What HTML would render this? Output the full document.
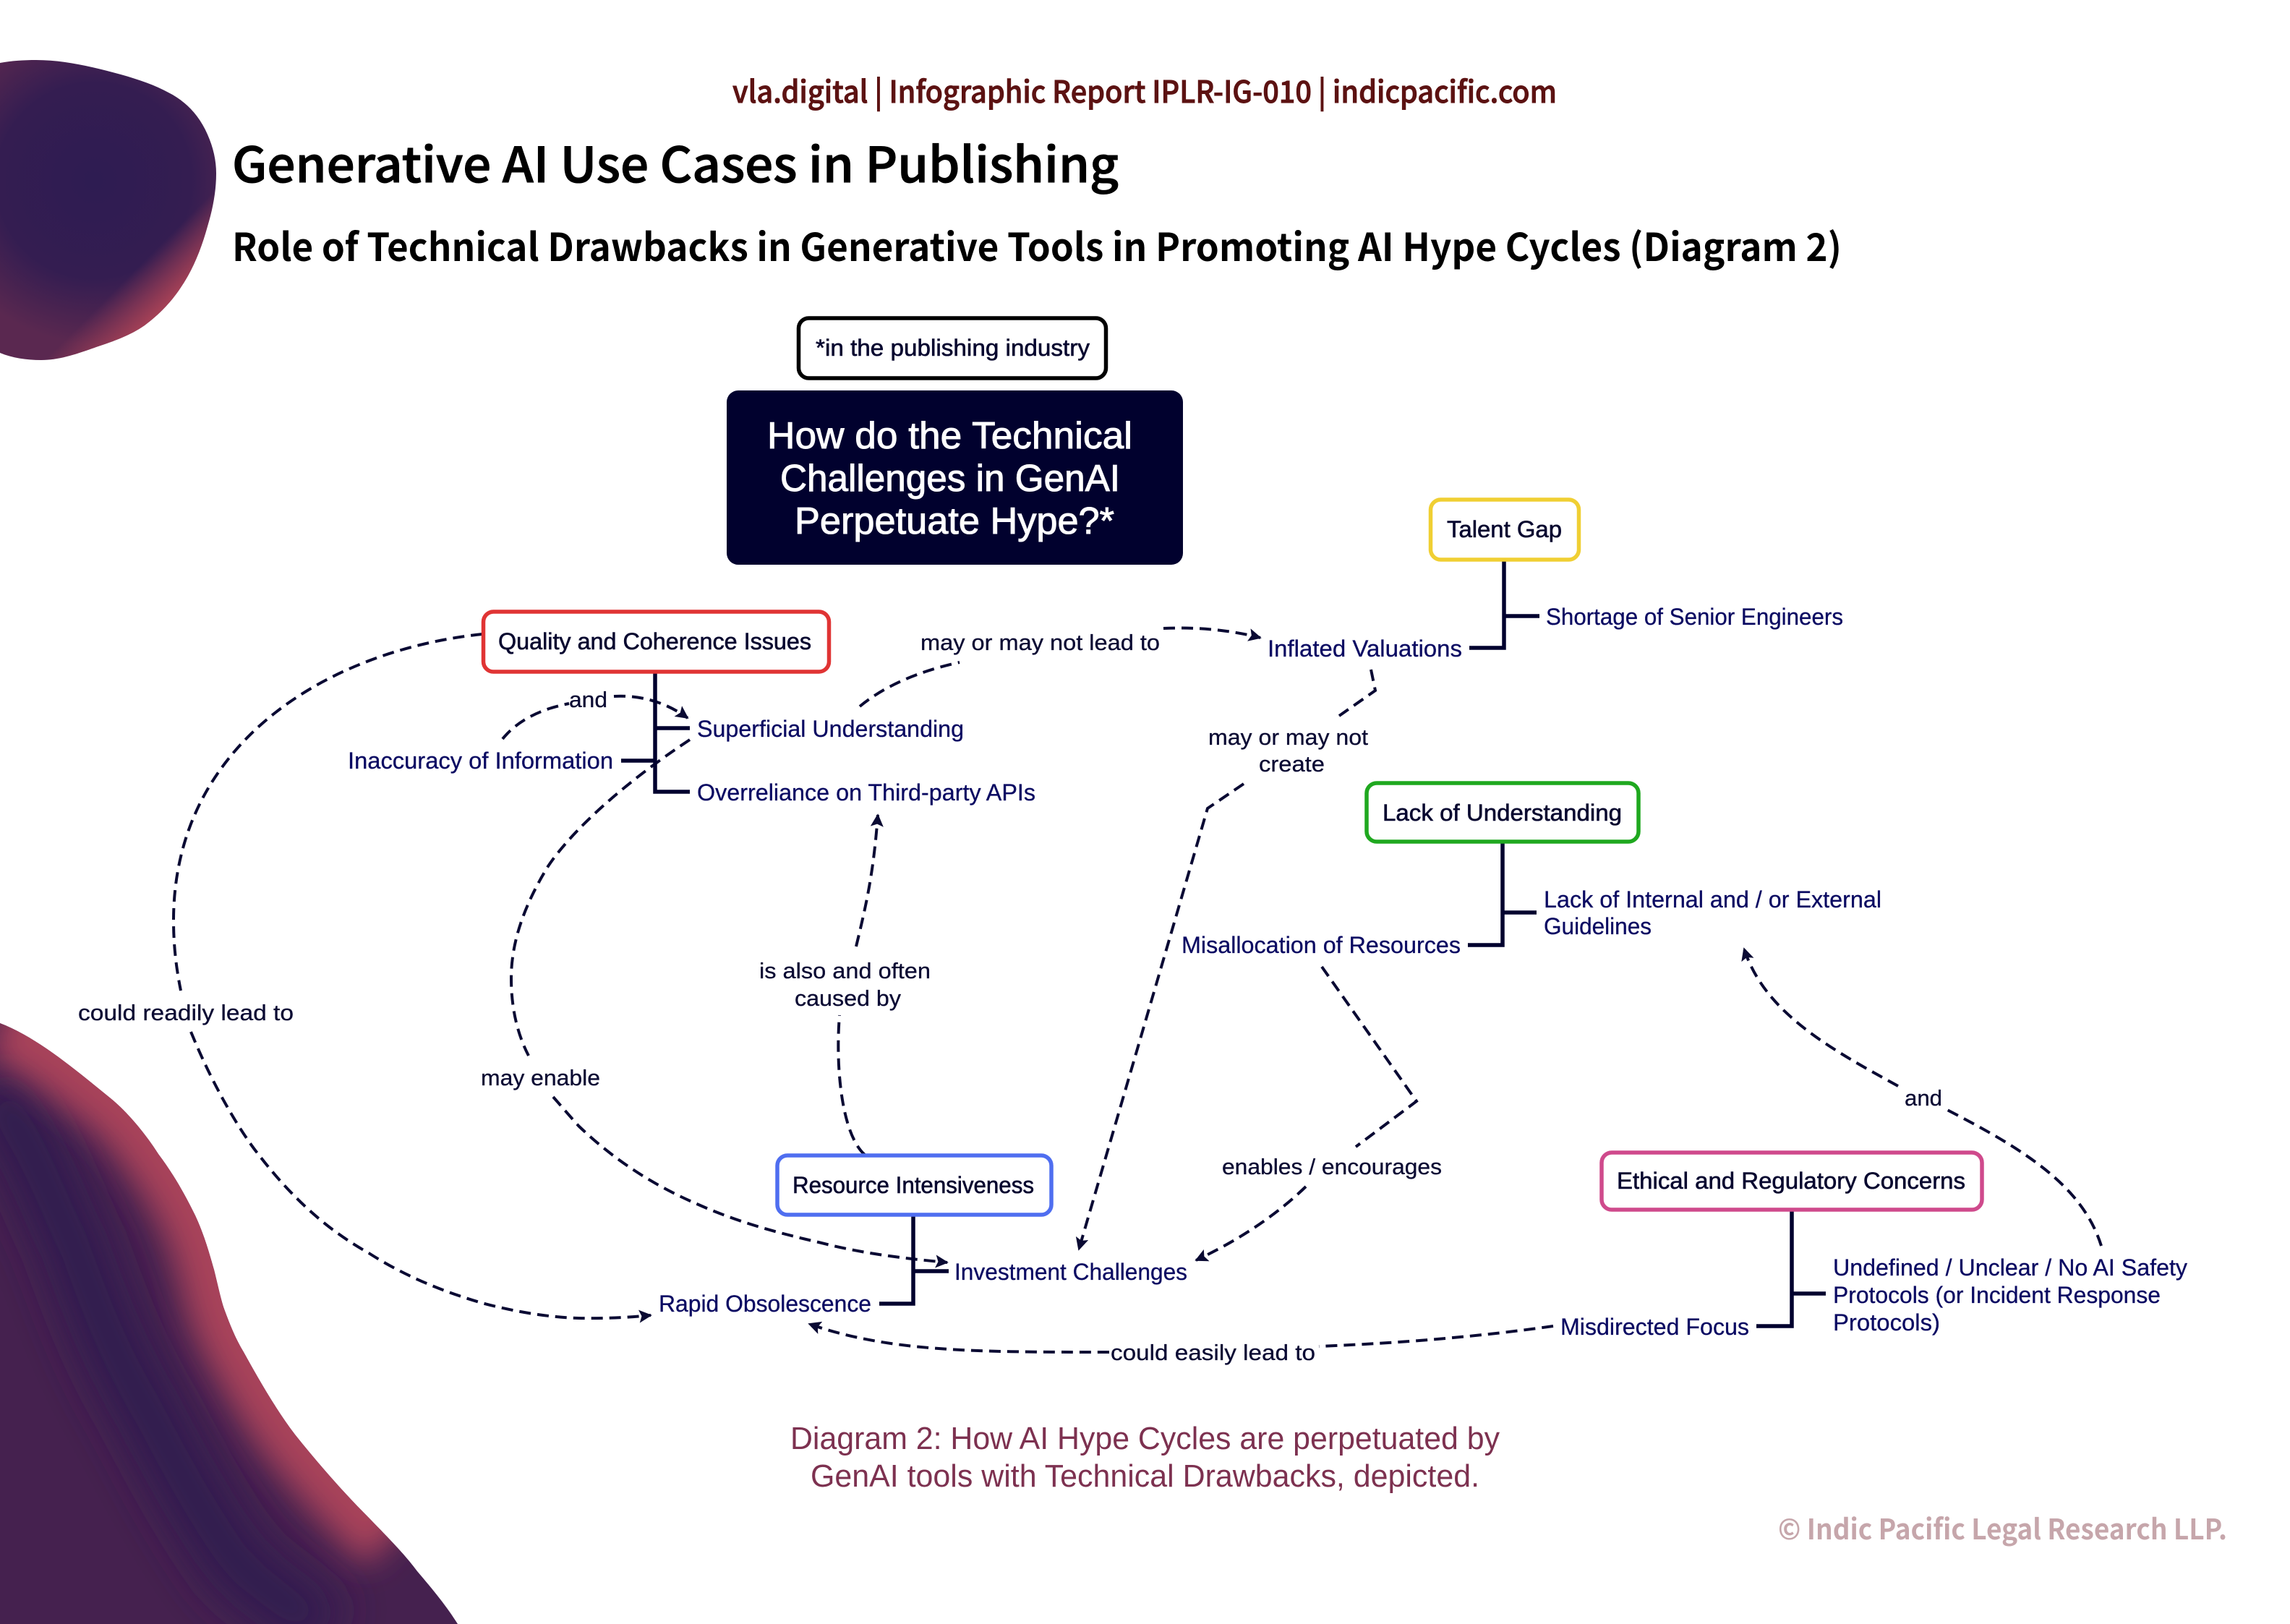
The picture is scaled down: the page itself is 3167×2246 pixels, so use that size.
<!DOCTYPE html>
<html><head><meta charset="utf-8"><title>Generative AI Use Cases in Publishing</title>
<style>
html,body{margin:0;padding:0;background:#fff}
svg{display:block}
text{font-family:"Liberation Sans",sans-serif;white-space:pre}
.h{font-family:"Noto Sans CJK JP","Noto Sans CJK SC","Liberation Sans",sans-serif}
.n{font-size:32px;fill:#07072f;stroke:#07072f;stroke-width:.6}
.b{font-size:32px;fill:#0a0a62;stroke:#0a0a62;stroke-width:.3}
.l{font-size:31px;fill:#0a0a33;stroke:#0a0a33;stroke-width:.3}
.m{font-size:52px;fill:#fff;stroke:#fff;stroke-width:1}
.c{font-size:44px;fill:#7d3150}
.d{fill:none;stroke:#0a0a33;stroke-width:4;stroke-dasharray:16 9}
.s{fill:none;stroke:#01012e;stroke-width:5.5}
.box{fill:#fff;stroke-width:5.5}
</style></head><body>
<svg xmlns="http://www.w3.org/2000/svg" width="3167" height="2246" viewBox="0 0 3167 2246">
<defs>
<marker id="a" viewBox="0 0 10 10" refX="9" refY="5" markerWidth="18" markerHeight="18" markerUnits="userSpaceOnUse" orient="auto"><path d="M0 0L10 5L0 10L2 5z" fill="#0a0a33"/></marker>
<radialGradient id="t1" gradientUnits="userSpaceOnUse" cx="130" cy="250" r="225"><stop offset="0" stop-color="#2e1c52"/><stop offset=".6" stop-color="#341d51"/><stop offset="1" stop-color="#5a2850"/></radialGradient>
<linearGradient id="t2" gradientUnits="userSpaceOnUse" x1="280" y1="280" x2="325" y2="325"><stop offset="0" stop-color="#a34056" stop-opacity="0"/><stop offset="1" stop-color="#a34056"/></linearGradient>
<path id="bp" d="M0 1415C52 1435 105 1480 153 1519C175 1537 200 1566 219 1596C243 1628 257 1655 270 1681C283 1709 290 1735 296 1756C302 1780 306 1800 311 1813C318 1832 326 1852 337 1870C358 1908 382 1950 408 1984C440 2024 475 2064 510 2099C540 2130 560 2150 577 2173C600 2200 618 2222 633 2246L0 2246Z"/>
<clipPath id="bc"><use href="#bp"/></clipPath>
<filter id="b1" x="-30%" y="-30%" width="160%" height="160%"><feGaussianBlur stdDeviation="22"/></filter>
<filter id="b2" x="-30%" y="-30%" width="160%" height="160%"><feGaussianBlur stdDeviation="30"/></filter>
</defs>
<rect width="3167" height="2246" fill="#fff"/>

<!-- blobs -->
<path d="M0 87C16 84 33 83 50 83C90 83 130 93 167 103C192 110 215 118 233 128C255 139 275 158 287 186C295 204 299 222 299 240C299 265 294 290 287 313C279 342 268 370 253 393C238 417 220 435 200 450C180 464 157 472 133 480C105 490 82 498 57 498C36 498 17 495 0 488Z" fill="url(#t1)"/>
<path d="M0 87C16 84 33 83 50 83C90 83 130 93 167 103C192 110 215 118 233 128C255 139 275 158 287 186C295 204 299 222 299 240C299 265 294 290 287 313C279 342 268 370 253 393C238 417 220 435 200 450C180 464 157 472 133 480C105 490 82 498 57 498C36 498 17 495 0 488Z" fill="url(#t2)"/>
<g clip-path="url(#bc)">
<rect x="0" y="1400" width="660" height="846" fill="#45214f"/>
<path d="M-20 1500C40 1560 70 1660 102 1721C130 1800 160 1880 204 1950C250 2040 290 2110 332 2167C370 2200 410 2225 450 2260" fill="none" stroke="#331c50" stroke-width="95" filter="url(#b2)"/>
<path d="M0 1415C52 1435 105 1480 153 1519C175 1537 200 1566 219 1596C243 1628 257 1655 270 1681C283 1709 290 1735 296 1756C302 1780 306 1800 311 1813C318 1832 326 1852 337 1870C358 1908 382 1950 408 1984C440 2024 475 2064 510 2099C522 2112 532 2122 540 2130" fill="none" stroke="#a8425a" stroke-width="100" filter="url(#b1)"/>
</g>

<!-- header -->
<text class="h" x="1013" y="142" font-size="42" font-weight="500" fill="#5c1212" stroke="#5c1212" stroke-width=".9" textLength="1140" lengthAdjust="spacingAndGlyphs">vla.digital | Infographic Report IPLR-IG-010 | indicpacific.com</text>
<text class="h" x="321" y="252" font-size="67" font-weight="500" fill="#000" stroke="#000" stroke-width="1" textLength="1226" lengthAdjust="spacingAndGlyphs">Generative AI Use Cases in Publishing</text>
<text class="h" x="321" y="361" font-size="53" font-weight="700" fill="#000" textLength="2226" lengthAdjust="spacingAndGlyphs">Role of Technical Drawbacks in Generative Tools in Promoting AI Hype Cycles (Diagram 2)</text>

<!-- dashed connectors -->
<path class="d" d="M667 877C450 900 240 1030 240 1273C240 1310 244 1340 250 1370"/>
<path class="d" marker-end="url(#a)" d="M264 1427C300 1515 340 1575 357 1596C410 1665 460 1705 510 1733C560 1765 610 1785 663 1801C710 1814 760 1822 800 1823Q850 1824 900 1819"/>
<path class="d" d="M954 1023C860 1085 790 1150 758 1198C720 1260 707 1310 707 1353C707 1400 718 1435 731 1460"/>
<path class="d" marker-end="url(#a)" d="M765 1517Q785 1540 800 1557C850 1605 905 1640 966 1666C1020 1690 1075 1705 1132 1718C1190 1733 1245 1740 1310 1746"/>
<path class="d" d="M1196 1597C1165 1570 1155 1480 1161 1404"/>
<path class="d" marker-end="url(#a)" d="M1184 1309C1197 1255 1208 1210 1214 1127"/>
<path class="d" d="M695 1022Q725 985 787 973"/>
<path class="d" marker-end="url(#a)" d="M849 963Q905 960 951 993"/>
<path class="d" d="M1189 977Q1240 935 1327 916"/>
<path class="d" marker-end="url(#a)" d="M1609 869Q1680 866 1743 882"/>
<path class="d" d="M1896 926L1902 955L1852 990"/>
<path class="d" marker-end="url(#a)" d="M1720 1084L1670 1118L1492 1728"/>
<path class="d" d="M1828 1337L1959 1523L1875 1586"/>
<path class="d" marker-end="url(#a)" d="M1806 1641Q1745 1700 1654 1743"/>
<path class="d" d="M2148 1834Q2000 1855 1824 1862"/>
<path class="d" marker-end="url(#a)" d="M1534 1870C1350 1870 1230 1870 1119 1831"/>
<path class="d" d="M2906 1723C2880 1640 2800 1590 2691 1534"/>
<path class="d" marker-end="url(#a)" d="M2625 1502C2530 1450 2440 1400 2412 1312"/>

<!-- stems -->
<path class="s" d="M906 931V1095H954M906 1007H954M859 1052H906"/>
<path class="s" d="M2080 776V896H2032M2080 852H2129"/>
<path class="s" d="M2078 1166V1307H2030M2078 1262H2125"/>
<path class="s" d="M1263 1682V1803H1216M1263 1758H1312"/>
<path class="s" d="M2478 1675V1834H2429M2478 1789H2525"/>

<!-- boxes -->
<rect class="box" x="1104.500" y="440" width="425" height="83" rx="14" stroke="#000"/>
<rect x="1005" y="540" width="631" height="241" rx="16" fill="#01012e"/>
<rect class="box" x="668.500" y="846" width="478" height="83" rx="14" stroke="#e03434"/>
<rect class="box" x="1978.500" y="691" width="205" height="83" rx="14" stroke="#f0cf33"/>
<rect class="box" x="1890" y="1083" width="376" height="81" rx="14" stroke="#1fa81f"/>
<rect class="box" x="1075" y="1598" width="379" height="82" rx="14" stroke="#4f6ef0"/>
<rect class="box" x="2215" y="1594" width="526" height="79" rx="14" stroke="#cf4a8c"/>

<!-- box labels -->
<text class="n" x="1128" y="492" textLength="379" lengthAdjust="spacingAndGlyphs">*in the publishing industry</text>
<text class="m" x="1061" y="620" textLength="505" lengthAdjust="spacingAndGlyphs">How do the Technical</text>
<text class="m" x="1079" y="679" textLength="470" lengthAdjust="spacingAndGlyphs">Challenges in GenAI</text>
<text class="m" x="1099" y="738" textLength="442" lengthAdjust="spacingAndGlyphs">Perpetuate Hype?*</text>
<text class="n" x="689" y="898" textLength="433" lengthAdjust="spacingAndGlyphs">Quality and Coherence Issues</text>
<text class="n" x="2001" y="743" textLength="159" lengthAdjust="spacingAndGlyphs">Talent Gap</text>
<text class="n" x="1912" y="1135" textLength="331" lengthAdjust="spacingAndGlyphs">Lack of Understanding</text>
<text class="n" x="1096" y="1650" textLength="334" lengthAdjust="spacingAndGlyphs">Resource Intensiveness</text>
<text class="n" x="2236" y="1644" textLength="482" lengthAdjust="spacingAndGlyphs">Ethical and Regulatory Concerns</text>

<!-- blue labels -->
<text class="b" x="964" y="1019" textLength="369" lengthAdjust="spacingAndGlyphs">Superficial Understanding</text>
<text class="b" x="481" y="1063" textLength="367" lengthAdjust="spacingAndGlyphs">Inaccuracy of Information</text>
<text class="b" x="964" y="1107" textLength="468" lengthAdjust="spacingAndGlyphs">Overreliance on Third-party APIs</text>
<text class="b" x="2138" y="864" textLength="411" lengthAdjust="spacingAndGlyphs">Shortage of Senior Engineers</text>
<text class="b" x="1753" y="908" textLength="269" lengthAdjust="spacingAndGlyphs">Inflated Valuations</text>
<text class="b" x="2135" y="1255" textLength="467" lengthAdjust="spacingAndGlyphs">Lack of Internal and / or External</text>
<text class="b" x="2135" y="1292" textLength="149" lengthAdjust="spacingAndGlyphs">Guidelines</text>
<text class="b" x="1634" y="1318" textLength="386" lengthAdjust="spacingAndGlyphs">Misallocation of Resources</text>
<text class="b" x="1320" y="1770" textLength="322" lengthAdjust="spacingAndGlyphs">Investment Challenges</text>
<text class="b" x="911" y="1814" textLength="294" lengthAdjust="spacingAndGlyphs">Rapid Obsolescence</text>
<text class="b" x="2158" y="1846" textLength="261" lengthAdjust="spacingAndGlyphs">Misdirected Focus</text>
<text class="b" x="2535" y="1764" textLength="490" lengthAdjust="spacingAndGlyphs">Undefined / Unclear / No AI Safety</text>
<text class="b" x="2535" y="1802" textLength="453" lengthAdjust="spacingAndGlyphs">Protocols (or Incident Response</text>
<text class="b" x="2535" y="1840" textLength="148" lengthAdjust="spacingAndGlyphs">Protocols)</text>

<!-- connector labels -->
<text class="l" x="787" y="978" textLength="53" lengthAdjust="spacingAndGlyphs">and</text>
<text class="l" x="1273" y="899" textLength="331" lengthAdjust="spacingAndGlyphs">may or may not lead to</text>
<text class="l" x="1671" y="1030" textLength="221" lengthAdjust="spacingAndGlyphs">may or may not</text>
<text class="l" x="1741" y="1067" textLength="91" lengthAdjust="spacingAndGlyphs">create</text>
<text class="l" x="108" y="1411" textLength="298" lengthAdjust="spacingAndGlyphs">could readily lead to</text>
<text class="l" x="665" y="1501" textLength="165" lengthAdjust="spacingAndGlyphs">may enable</text>
<text class="l" x="1050" y="1353" textLength="237" lengthAdjust="spacingAndGlyphs">is also and often</text>
<text class="l" x="1099" y="1391" textLength="147" lengthAdjust="spacingAndGlyphs">caused by</text>
<text class="l" x="1690" y="1624" textLength="304" lengthAdjust="spacingAndGlyphs">enables / encourages</text>
<text class="l" x="1536" y="1881" textLength="283" lengthAdjust="spacingAndGlyphs">could easily lead to</text>
<text class="l" x="2634" y="1529" textLength="52" lengthAdjust="spacingAndGlyphs">and</text>

<!-- caption -->
<text class="c" x="1093" y="2004" textLength="981" lengthAdjust="spacingAndGlyphs">Diagram 2: How AI Hype Cycles are perpetuated by</text>
<text class="c" x="1121" y="2056" textLength="925" lengthAdjust="spacingAndGlyphs">GenAI tools with Technical Drawbacks, depicted.</text>
<text class="h" x="2459" y="2129" font-size="39" font-weight="700" fill="#c6a6ab" textLength="621" lengthAdjust="spacingAndGlyphs">© Indic Pacific Legal Research LLP.</text>
</svg>
</body></html>
